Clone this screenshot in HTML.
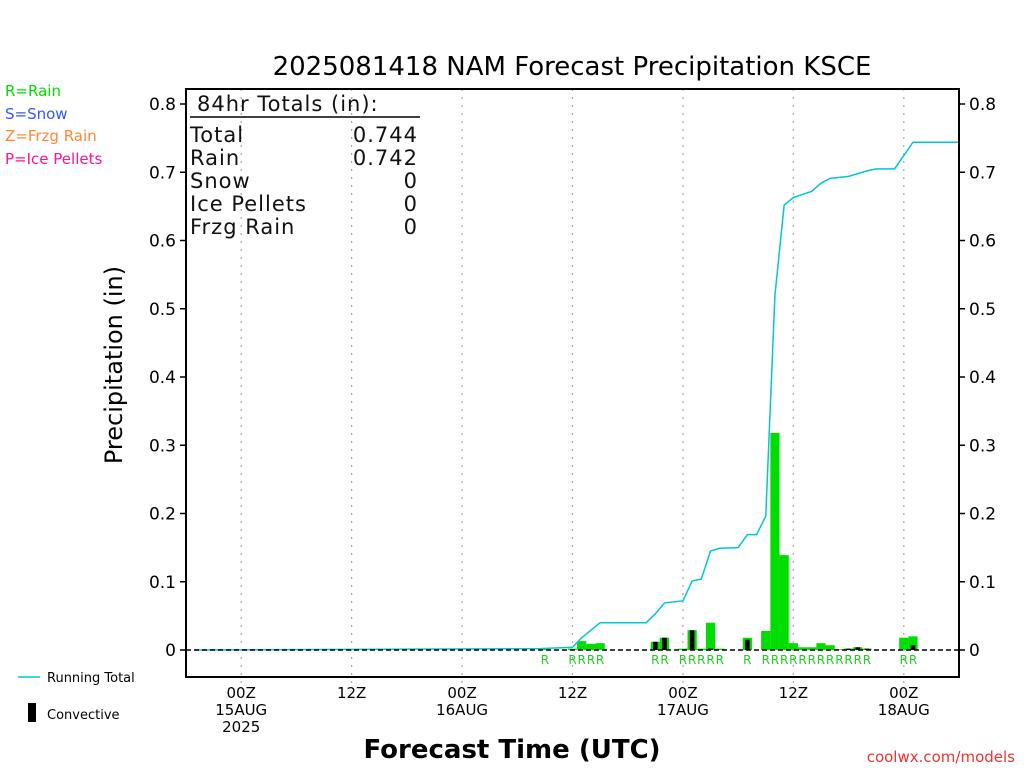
<!DOCTYPE html>
<html><head><meta charset="utf-8"><style>
body{margin:0;background:#fff}
svg text{font-family:"DejaVu Sans","Liberation Sans",sans-serif}
</style></head><body>
<svg id="c" width="1024" height="768" xmlns="http://www.w3.org/2000/svg">
<rect width="1024" height="768" fill="#fff"/>
<text x="572" y="75" font-size="26" text-anchor="middle" fill="#000">2025081418 NAM Forecast Precipitation KSCE</text>
<g font-size="15">
<text x="5" y="96" fill="#00dd00">R=Rain</text>
<text x="5" y="119" fill="#3355ff">S=Snow</text>
<text x="5" y="141" fill="#ff8833">Z=Frzg Rain</text>
<text x="5" y="164" fill="#ff1493">P=Ice Pellets</text>
</g>
<text transform="translate(122,365) rotate(-90)" font-size="24" text-anchor="middle">Precipitation (in)</text>
<text x="512" y="758" font-size="26" text-anchor="middle" font-weight="bold">Forecast Time (UTC)</text>
<text x="1015" y="762" font-size="15" text-anchor="end" fill="#ee3333">coolwx.com/models</text>
<line x1="18" y1="677" x2="40" y2="677" stroke="#00cccc" stroke-width="1.5"/>
<text x="47" y="682" font-size="13">Running Total</text>
<rect x="28" y="703" width="8" height="19" fill="#000"/>
<text x="47" y="719" font-size="13">Convective</text>
<g id="grid"></g><g id="bars"></g><g id="line"></g><g id="axes"></g>
<g font-size="21" fill="#111" letter-spacing="1">
<text x="197" y="111">84hr Totals (in):</text>
<line x1="190" y1="117" x2="420" y2="117" stroke="#000" stroke-width="1.5"/>
<text x="190" y="142">Total</text><text x="418" y="142" text-anchor="end">0.744</text>
<text x="190" y="165">Rain</text><text x="418" y="165" text-anchor="end">0.742</text>
<text x="190" y="188">Snow</text><text x="418" y="188" text-anchor="end">0</text>
<text x="190" y="211">Ice Pellets</text><text x="418" y="211" text-anchor="end">0</text>
<text x="190" y="234">Frzg Rain</text><text x="418" y="234" text-anchor="end">0</text>
</g>
</svg>
<script>
const yTicks=[0,0.1,0.2,0.3,0.4,0.5,0.6,0.7,0.8];
const yTickLabels=["0","0.1","0.2","0.3","0.4","0.5","0.6","0.7","0.8"];
const xTickHours=[6,18,30,42,54,66,78];
const xTickLabels=[["00Z","15AUG","2025"],["12Z"],["00Z","16AUG"],["12Z"],["00Z","17AUG"],["12Z"],["00Z","18AUG"]];
const barHours=[39,42,43,44,45,51,52,54,55,56,57,58,61,63,64,65,66,67,68,69,70,71,72,73,74,78,79];
const barValues=[0.002,0.002,0.013,0.009,0.010,0.012,0.018,0.002,0.029,0.002,0.040,0.002,0.018,0.028,0.318,0.139,0.010,0.004,0.004,0.010,0.007,0.001,0.002,0.004,0.002,0.018,0.020];
const convValues=[0,0,0,0,0,0.012,0.018,0,0.029,0,0.002,0,0.015,0,0,0,0,0,0,0,0,0,0.002,0.004,0.002,0,0.007];
const totalHours=[1,38.5,42,43,45,50,51,52,54,55,56,57,58,60,61,62,63,64,65,66,68,69,70,72,74,75,77,79,84];
const totalValues=[0,0.002,0.004,0.018,0.040,0.040,0.053,0.069,0.072,0.101,0.104,0.145,0.149,0.150,0.169,0.169,0.196,0.52,0.652,0.663,0.672,0.684,0.691,0.694,0.702,0.705,0.705,0.744,0.744];
const X0=186,X1=959,Y0=650,YT=104,TOP=89,BOT=677;
const xs=h=>X0+(X1-X0)*h/84;
const ys=v=>Y0-(Y0-YT)*v/0.8;
const NS="http://www.w3.org/2000/svg";
function mk(p,t,a){const e=document.createElementNS(NS,t);for(const k in a)e.setAttribute(k,a[k]);document.getElementById(p).appendChild(e);return e;}
xTickHours.forEach((h,i)=>{
 const g=mk('grid','line',{x1:xs(h),x2:xs(h),y1:TOP,y2:BOT+8,stroke:'#aaa','stroke-width':1.2,'stroke-dasharray':'2,6'});
 
 
 xTickLabels[i].forEach((s,j)=>{
  const t=mk('axes','text',{x:xs(h),y:698+j*17,'font-size':15,'text-anchor':'middle'});t.textContent=s;
  
  
 });
});
barHours.forEach((h,i)=>{
 const x=xs(h-0.5),w=xs(1)-X0;
 const b=mk('bars','rect',{x:x,y:ys(barValues[i]),width:w,height:Y0-ys(barValues[i]),fill:'#00dd00'});
 
 
 if(convValues[i]>0){
  const c=mk('bars','rect',{x:x+w*0.25,y:ys(convValues[i]),width:w*0.5,height:Y0-ys(convValues[i]),fill:'#000'});
  
  
 }
 const t=mk('bars','text',{x:xs(h),y:664,'font-size':12,'text-anchor':'middle',fill:'#22cc22'});t.textContent='R';
 
 
});
const zl=mk('axes','line',{x1:X0,x2:X1,y1:Y0,y2:Y0,stroke:'#000','stroke-width':1.5,'stroke-dasharray':'5,3'});


const pl=mk('line','polyline',{points:totalHours.map((h,i)=>xs(h)+','+ys(totalValues[i])).join(' '),fill:'none',stroke:'#00c8d0','stroke-width':1.5});


const fr=mk('axes','rect',{x:X0,y:TOP,width:X1-X0,height:BOT-TOP,fill:'none',stroke:'#000','stroke-width':2});


yTicks.forEach((v,i)=>{
 mk('axes','line',{x1:X0-6,x2:X0,y1:ys(v),y2:ys(v),stroke:'#000','stroke-width':1.5});
 mk('axes','line',{x1:X1,x2:X1+6,y1:ys(v),y2:ys(v),stroke:'#000','stroke-width':1.5});
 const l=mk('axes','text',{x:X0-10,y:ys(v)+6,'font-size':17,'text-anchor':'end'});l.textContent=yTickLabels[i];
 
 
 const r=mk('axes','text',{x:X1+10,y:ys(v)+6,'font-size':17});r.textContent=yTickLabels[i];
 
 
});
</script>
</body></html>
